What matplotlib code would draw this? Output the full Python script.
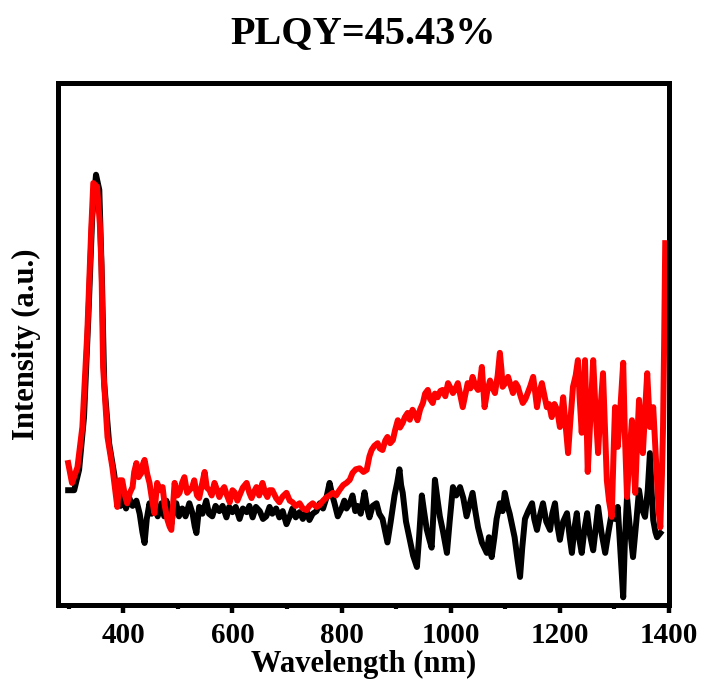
import matplotlib
matplotlib.use("Agg")
import matplotlib.pyplot as plt
from matplotlib.ticker import MultipleLocator

plt.rcParams['font.family'] = ['Liberation Serif', 'DejaVu Serif']
plt.rcParams['font.weight'] = 'bold'

# ---- data ----
black_wl = [
    299, 310, 319, 328, 336, 343, 350, 356, 361, 365,
    374, 383, 389, 395, 400, 405, 411, 417, 424, 430,
    435, 439, 443, 448, 452, 457, 463, 470, 475, 479,
    484, 488, 492, 497, 502, 508, 514, 521, 527, 531,
    534, 539, 545, 552, 557, 563, 569, 576, 582, 589,
    594, 600, 606, 613, 619, 626, 631, 637, 643, 650,
    656, 662, 668, 673, 680, 686, 692, 699, 705, 710,
    716, 723, 729, 736, 741, 747, 754, 760, 766, 772,
    778, 783, 787, 793, 800, 805, 809, 815, 820, 825,
    829, 835, 842, 847, 851, 857, 864, 869, 875, 880,
    884, 890, 897, 902, 906, 909, 912, 918, 925, 931,
    938, 942, 947, 951, 956, 961, 965, 968, 971, 976,
    980, 986, 993, 998, 1004, 1010, 1017, 1023, 1029, 1035,
    1040, 1045, 1050, 1057, 1066, 1070, 1075, 1080, 1084, 1090,
    1095, 1099, 1104, 1108, 1113, 1117, 1122, 1127, 1131, 1136,
    1142, 1149, 1153, 1158, 1163, 1169, 1175, 1182, 1186, 1191,
    1195, 1200, 1206, 1213, 1218, 1222, 1227, 1231, 1235, 1240,
    1245, 1250, 1255, 1261, 1266, 1270, 1276, 1283, 1289, 1295,
    1301, 1306, 1310, 1316, 1319, 1323, 1328, 1334, 1340, 1345,
    1350, 1356, 1361, 1365, 1368, 1371, 1375, 1378, 1384]
black_int = [
    22.0, 22.0, 25.9, 36.0, 55.2, 74.3, 82.4, 79.5, 61.7, 42.5,
    31.0, 25.3, 20.7, 19.0, 21.0, 18.5, 20.5, 19.0, 20.0, 17.5,
    14.0, 11.9, 16.5, 19.5, 17.5, 20.0, 17.0, 19.5, 17.0, 20.0,
    17.5, 15.5, 18.5, 19.5, 17.0, 18.5, 17.0, 19.5, 17.5, 15.0,
    13.8, 18.8, 17.5, 20.0, 17.5, 17.0, 19.0, 18.0, 19.0, 16.8,
    18.8, 17.8, 18.8, 16.5, 18.5, 17.8, 19.0, 16.8, 18.8, 18.0,
    16.5, 17.0, 18.8, 17.5, 18.5, 16.8, 18.0, 15.5, 17.0, 18.5,
    16.8, 17.8, 16.5, 18.0, 16.3, 17.5, 18.0, 19.5, 18.5, 20.5,
    23.4, 21.0, 19.5, 17.0, 18.5, 20.0, 18.5, 19.5, 21.0, 18.0,
    19.0, 17.5, 21.6, 18.5, 16.8, 19.0, 19.5, 17.5, 16.5, 14.0,
    12.0, 16.0, 21.0, 23.5, 26.0, 23.0, 21.5, 16.0, 12.5, 9.5,
    7.3, 13.0, 21.0, 18.0, 14.5, 12.5, 11.0, 17.0, 24.0, 20.0,
    17.0, 14.0, 10.0, 16.0, 22.6, 21.0, 22.6, 20.5, 17.0, 19.5,
    21.5, 18.0, 14.9, 12.0, 10.0, 13.0, 9.2, 13.0, 16.5, 19.5,
    18.0, 21.5, 19.0, 17.5, 15.0, 13.0, 9.0, 5.4, 11.0, 16.5,
    18.0, 19.5, 16.5, 14.4, 17.0, 19.5, 16.0, 14.4, 17.5, 19.5,
    15.5, 12.5, 16.0, 17.6, 13.0, 10.0, 15.0, 17.6, 13.0, 10.0,
    14.5, 17.6, 13.5, 10.5, 15.0, 18.8, 14.0, 10.0, 14.0, 17.6,
    16.5, 18.8, 12.0, 1.5, 12.0, 20.7, 15.0, 9.2, 16.0, 22.0,
    18.5, 16.9, 22.0, 29.1, 22.0, 16.3, 14.0, 13.0, 13.8]

red_wl = [
    299, 306, 316, 325, 334, 341, 345, 352, 357, 360,
    363, 371, 380, 383, 389, 393, 398, 403, 407, 412,
    417, 420, 424, 428, 433, 436, 439, 444, 448, 453,
    457, 460, 462, 467, 472, 476, 481, 485, 488, 491,
    494, 499, 503, 508, 512, 517, 521, 526, 530, 535,
    539, 544, 549, 553, 558, 562, 567, 572, 576, 581,
    585, 590, 595, 600, 604, 609, 613, 619, 626, 631,
    635, 640, 644, 649, 655, 660, 664, 668, 673, 680,
    686, 692, 699, 705, 710, 716, 723, 729, 736, 741,
    747, 754, 760, 766, 773, 778, 784, 790, 796, 803,
    809, 815, 820, 826, 833, 840, 846, 851, 855, 860,
    866, 870, 875, 880, 884, 889, 894, 898, 903, 907,
    912, 916, 921, 925, 930, 935, 939, 944, 949, 953,
    958, 962, 967, 971, 976, 981, 985, 990, 995, 1000,
    1004, 1009, 1013, 1018, 1022, 1027, 1031, 1036, 1040, 1045,
    1050, 1054, 1057, 1060, 1062, 1067, 1072, 1077, 1081, 1086,
    1090, 1093, 1095, 1100, 1105, 1110, 1114, 1119, 1123, 1128,
    1132, 1137, 1141, 1146, 1151, 1155, 1158, 1162, 1167, 1172,
    1176, 1180, 1185, 1190, 1195, 1200, 1203, 1206, 1210, 1215,
    1219, 1224, 1229, 1233, 1236, 1240, 1243, 1246, 1249, 1251,
    1256, 1261, 1265, 1270, 1274, 1279, 1283, 1286, 1290, 1295,
    1298, 1301, 1303, 1306, 1311, 1316, 1319, 1323, 1327, 1332,
    1335, 1338, 1341, 1345, 1349, 1352, 1356, 1360, 1363, 1365,
    1368, 1371, 1375, 1378, 1381, 1384, 1387, 1389, 1391, 1393]
red_int = [
    27.2, 23.4, 26.4, 34.1, 52.1, 71.3, 80.8, 80.1, 73.0, 64.8,
    45.6, 32.2, 26.4, 23.9, 18.8, 23.9, 23.9, 21.0, 19.5, 21.5,
    22.6, 25.5, 27.2, 24.5, 25.3, 27.0, 27.8, 25.0, 23.4, 20.0,
    17.6, 21.0, 23.4, 22.0, 22.6, 19.0, 16.3, 15.0, 14.4, 19.0,
    23.4, 21.0, 21.5, 23.5, 24.5, 21.5, 22.0, 22.5, 23.9, 21.0,
    20.5, 23.0, 25.5, 22.5, 22.0, 21.0, 23.4, 22.0, 20.7, 22.0,
    22.6, 21.0, 19.7, 22.0, 21.6, 20.0, 21.0, 22.5, 23.4, 21.5,
    20.5, 21.8, 22.6, 21.0, 23.4, 21.5, 20.7, 22.0, 22.0, 20.5,
    19.7, 20.8, 21.5, 20.0, 19.7, 19.0, 19.5, 18.5, 18.2, 19.0,
    19.5, 18.8, 19.2, 20.0, 20.7, 21.0, 21.5, 21.0, 22.0, 23.0,
    23.4, 24.0, 25.3, 26.0, 26.2, 25.5, 25.9, 28.5, 29.7, 30.5,
    31.0, 30.0, 29.7, 31.5, 32.2, 31.0, 31.6, 33.5, 35.4, 34.0,
    34.9, 36.0, 36.8, 35.5, 37.4, 36.5, 35.4, 37.5, 38.7, 40.5,
    41.2, 39.5, 38.7, 40.5, 39.8, 41.0, 41.2, 40.0, 42.5, 41.5,
    40.6, 41.5, 42.5, 40.0, 37.9, 40.5, 42.5, 41.5, 43.7, 42.0,
    41.2, 43.0, 45.6, 41.0, 37.9, 41.0, 43.0, 41.5, 40.6, 44.0,
    48.3, 45.0, 41.8, 42.5, 43.7, 42.0, 40.6, 42.5, 41.8, 40.0,
    38.7, 39.5, 40.6, 42.0, 43.7, 40.5, 37.9, 40.5, 42.5, 40.0,
    37.9, 38.5, 36.0, 38.5, 37.4, 34.1, 37.0, 39.8, 35.0, 29.1,
    35.0, 41.8, 44.0, 46.9, 40.0, 33.0, 40.0, 46.9, 35.0, 25.5,
    36.0, 46.9, 38.0, 29.1, 37.0, 44.4, 33.0, 23.9, 20.0, 16.9,
    28.0, 37.9, 34.0, 30.3, 38.0, 46.4, 33.0, 20.7, 28.0, 35.4,
    28.0, 21.5, 30.0, 39.3, 33.0, 29.1, 37.0, 44.4, 38.0, 34.1,
    36.0, 37.9, 30.0, 23.9, 18.0, 14.9, 25.0, 34.1, 50.0, 69.3]

x_ticks = [400, 600, 800, 1000, 1200, 1400]

fig = plt.figure(figsize=(7.05, 6.90), dpi=100)
ax = fig.add_axes([0.082, 0.123, 0.867, 0.757])

ax.plot(black_wl, black_int, color='black', lw=4.3, solid_joinstyle='round')
ax.plot(red_wl, red_int, color='#ff0000', lw=4.3, solid_joinstyle='round')

ax.set_xlim(280, 1400)
ax.set_ylim(0, 100)
ax.set_xticks(x_ticks)
ax.set_xticklabels([str(t) for t in x_ticks])
ax.xaxis.set_minor_locator(MultipleLocator(100))
ax.set_yticks([])

for s in ax.spines.values():
    s.set_linewidth(3.6)

ax.tick_params(axis='x', which='major', direction='out', length=6, width=3.2,
               labelsize=21, pad=6)
ax.tick_params(axis='x', which='minor', direction='out', length=3, width=3.0)
for lab in ax.get_xticklabels():
    lab.set_fontweight('bold')

ax.set_xlabel('Wavelength (nm)', fontsize=22, fontweight='bold', labelpad=1)
ax.set_ylabel('Intensity (a.u.)', fontsize=22, fontweight='bold', labelpad=12)
fig.text(0.515, 0.952, 'PLQY=45.43%', ha='center', va='center', fontsize=29,
         fontweight='bold')

fig.savefig('out.png', dpi=100)
